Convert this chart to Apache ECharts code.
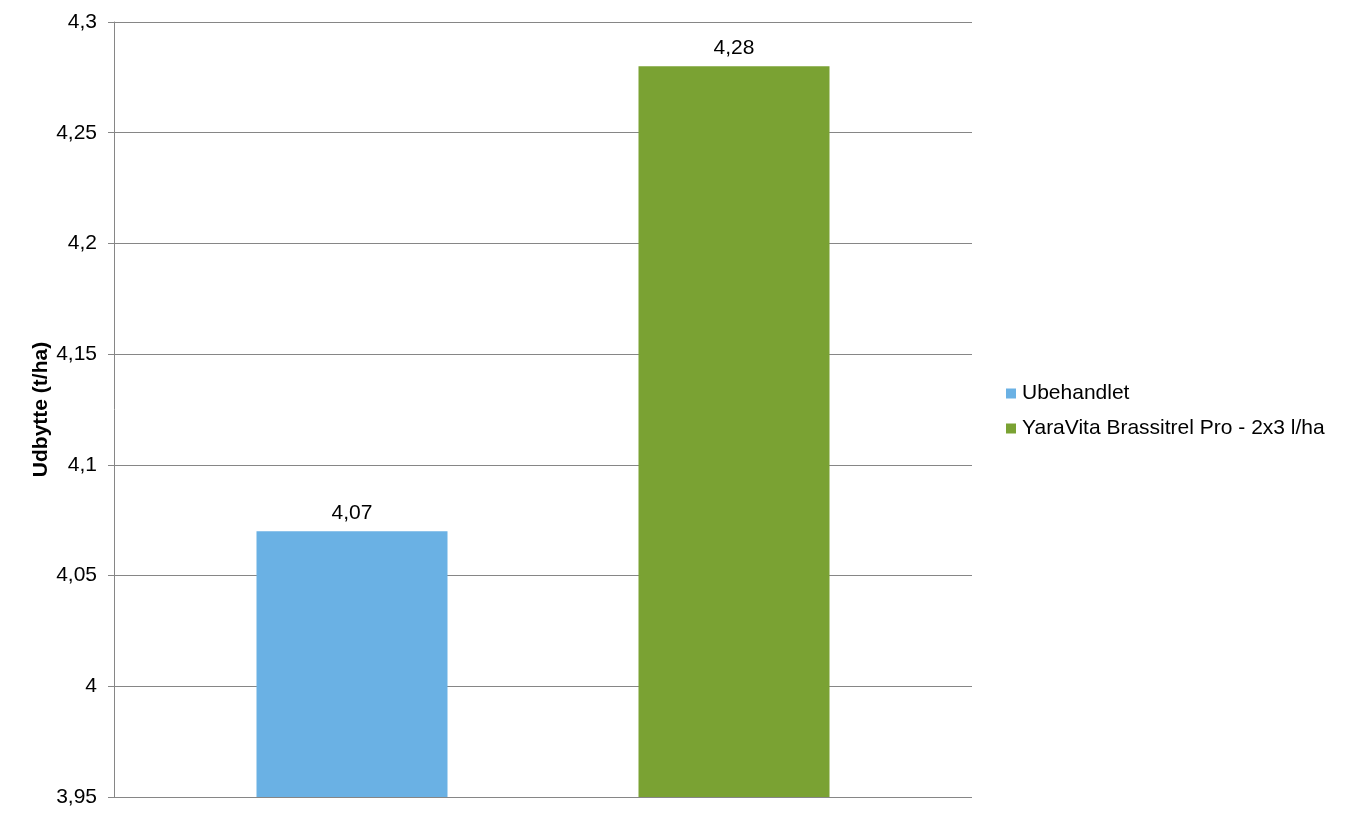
<!DOCTYPE html>
<html>
<head>
<meta charset="utf-8">
<script src="https://cdn.jsdelivr.net/npm/echarts@6/dist/echarts.min.js"></script>
<style>html,body{margin:0;padding:0;background:#fff;}#c{width:1350px;height:820px;}</style>
</head>
<body>
<div id="c"></div>
<script>
var categories = [''];
var seriesNames = ['Ubehandlet', 'YaraVita Brassitrel Pro - 2x3 l/ha'];
var ubehandlet = [4.07];
var yaraVita = [4.28];
var yAxisTitle = 'Udbytte (t/ha)';

function fmt(v) { return String(Number(Number(v).toFixed(2))).replace('.', ','); }

var chart = echarts.init(document.getElementById('c'), null, {renderer: 'canvas'});
var font = 'Liberation Sans, Arial, sans-serif';
chart.setOption({
  animation: false,
  backgroundColor: '#ffffff',
  textStyle: {fontFamily: font},
  grid: {left: 114, right: 378, top: 22, bottom: 23, containLabel: false},
  legend: {
    orient: 'vertical', left: 1001, top: 378,
    itemWidth: 10, itemHeight: 10, itemGap: 14,
    icon: 'rect',
    textStyle: {fontSize: 21, color: '#000', fontFamily: font, padding: [0, 0, 0, 1]},
    data: seriesNames
  },
  xAxis: {
    type: 'category', data: categories,
    axisLine: {show: false}, axisTick: {show: false}, axisLabel: {show: false}
  },
  yAxis: {
    type: 'value', min: 3.95, max: 4.3, interval: 0.05,
    name: yAxisTitle, nameLocation: 'middle', nameGap: 62, nameMoveOverlap: false,
    nameTextStyle: {fontSize: 21, fontWeight: 'bold', color: '#000', fontFamily: font},
    axisLine: {show: true, lineStyle: {color: '#868686', width: 1}},
    axisTick: {show: true, length: 6, lineStyle: {color: '#868686'}},
    axisLabel: {fontSize: 21, color: '#000', margin: 17, fontFamily: font, formatter: fmt},
    splitLine: {show: true, lineStyle: {color: '#868686', width: 1}}
  },
  series: [
    {
      name: seriesNames[0], type: 'bar', data: ubehandlet,
      barWidth: 191, barGap: '100%',
      itemStyle: {color: '#6AB1E4'},
      label: {show: true, position: 'top', distance: 8, fontSize: 21, color: '#000', fontFamily: font, formatter: function(p){return fmt(p.value);}}
    },
    {
      name: seriesNames[1], type: 'bar', data: yaraVita,
      barWidth: 191, barGap: '100%',
      itemStyle: {color: '#7AA233'},
      label: {show: true, position: 'top', distance: 8, fontSize: 21, color: '#000', fontFamily: font, formatter: function(p){return fmt(p.value);}}
    }
  ]
});
</script>
</body>
</html>
